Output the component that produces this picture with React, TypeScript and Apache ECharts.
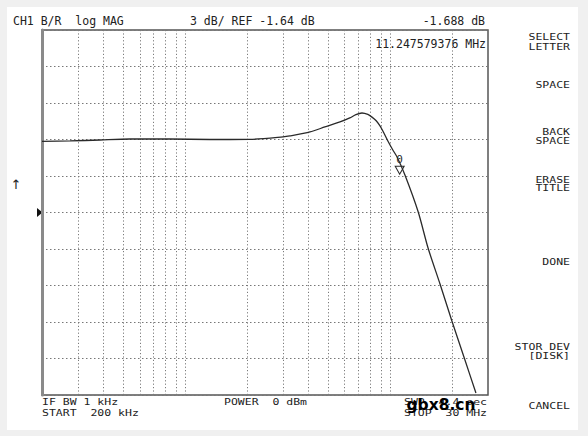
import React, { useEffect, useRef } from "react";
import * as echarts from "echarts";

// ---- data ----
const START_HZ = 200e3;
const STOP_HZ = 30e6;
const REF_DB = -1.64;
const DB_PER_DIV = 3;
const DIVS = 10;

const FREQ_HZ = [
  200e3, 274e3, 384e3, 537e3, 842e3, 1.32e6, 2.07e6, 3.0e6, 3.24e6, 4.06e6,
  4.8e6, 5.69e6, 6.35e6, 6.8e6, 7.28e6, 7.78e6, 8.15e6, 8.52e6, 8.9e6, 9.22e6,
  9.74e6, 10.3e6, 10.8e6, 11.8e6, 13.7e6, 15.3e6, 17.5e6, 20.0e6, 22.9e6, 26.2e6,
];
const TRACE_DB = [
  4.2, 4.24, 4.32, 4.4, 4.4, 4.36, 4.37, 4.57, 4.65, 4.98,
  5.39, 5.8, 6.13, 6.4, 6.54, 6.42, 6.2, 5.92, 5.5, 5.04,
  4.24, 3.5, 2.92, 1.44, -1.6, -4.56, -7.52, -10.56, -13.52, -16.48,
];
const GRID_FREQ_HZ = [
  300e3, 400e3, 500e3, 600e3, 700e3, 800e3, 900e3, 1e6,
  2e6, 3e6, 4e6, 5e6, 6e6, 7e6, 8e6, 9e6, 10e6, 20e6,
];
const MARKER_HZ = 11247579.376;
const MARKER_DB = 2.24;
const MARKER_LABEL = "0";

const HEADER_LEFT = "CH1 B/R  log MAG";
const HEADER_SCALE = "3 dB/ REF -1.64 dB";
const HEADER_READOUT = "-1.688 dB";
const MARKER_READOUT = "11.247579376 MHz";
const FOOTER_LEFT = ["IF BW 1 kHz", "START  200 kHz"];
const FOOTER_MID = "POWER  0 dBm";
const FOOTER_RIGHT = ["SWP  4.4 sec", "STOP  30 MHz"];
const SOFTKEYS = ["SELECT", "LETTER", "SPACE", "BACK", "SPACE", "ERASE", "TITLE", "DONE", "STOR DEV", "[DISK]", "CANCEL"];
const WATERMARK = "gbx8.cn";

const MONO = '"DejaVu Sans Mono", "Liberation Mono", monospace';

function txt(x: number, y: number, text: string, align = "left", size = 11.5, scaleY = 1, family = MONO) {
  return {
    type: "text",
    silent: true,
    x,
    y,
    scaleY,
    style: {
      text,
      x: 0,
      y: 0,
      fill: "#222",
      font: `${size}px ${family}`,
      align,
      textAlign: align,
      verticalAlign: "middle",
      textVerticalAlign: "middle",
    },
  };
}

export default function App() {
  const ref = useRef<HTMLDivElement>(null);

  useEffect(() => {
    if (!ref.current) return;
    const chart = echarts.init(ref.current, undefined, { renderer: "svg" });
    const softY = [37.3, 47.5, 85.5, 132.5, 141.5, 179.7, 188.3, 262, 347.5, 356.5, 406];
    const option: any = {
      animation: false,
      backgroundColor: "transparent",
      grid: {
        left: 42,
        top: 30,
        right: 100,
        bottom: 41,
        show: true,
        borderColor: "#555",
        borderWidth: 1.5,
        backgroundColor: "transparent",
      },
      xAxis: {
        type: "log",
        logBase: 10,
        min: START_HZ,
        max: STOP_HZ,
        axisLine: { show: false },
        axisTick: { show: false },
        axisLabel: { show: false },
        splitLine: { show: false },
        minorSplitLine: { show: false },
      },
      yAxis: [
        {
          type: "value",
          min: REF_DB - (DB_PER_DIV * DIVS) / 2,
          max: REF_DB + (DB_PER_DIV * DIVS) / 2,
          axisLine: { show: true, onZero: false, lineStyle: { color: "#8a8a8a", width: 3 } },
          axisTick: { show: false },
          axisLabel: { show: false },
          splitLine: { show: false },
        },
        {
          type: "value",
          min: -DIVS / 2,
          max: DIVS / 2,
          interval: 1,
          position: "right",
          axisLine: { show: false },
          axisTick: { show: false },
          axisLabel: { show: false },
          splitLine: { show: true, lineStyle: { color: "#777", width: 1, type: [1.5, 2.5] } },
        },
      ],
      series: [
        {
          type: "line",
          data: FREQ_HZ.map((f, i) => [f, TRACE_DB[i]]),
          showSymbol: false,
          smooth: 0.25,
          clip: true,
          lineStyle: { color: "#2a2a2a", width: 1.3 },
          z: 5,
          markLine: {
            silent: true,
            symbol: ["none", "none"],
            label: { show: false },
            lineStyle: { color: "#7a7a7a", width: 1, type: [1.2, 2.2] },
            data: GRID_FREQ_HZ.map((f) => ({ xAxis: f })),
            z: 1,
          },
          markPoint: {
            silent: true,
            symbol: "path://M0,0 L10,0 L5,9 Z",
            symbolSize: [9, 8],
            symbolOffset: [-1, 5],
            itemStyle: { color: "#fff", borderColor: "#2a2a2a", borderWidth: 1 },
            label: {
              show: true,
              position: "top",
              distance: 1,
              formatter: MARKER_LABEL,
              color: "#2a2a2a",
              fontFamily: MONO,
              fontSize: 11,
            },
            data: [{ coord: [MARKER_HZ, MARKER_DB] }],
          },
        },
      ],
      graphic: [
        txt(13, 21.3, HEADER_LEFT),
        txt(190, 21.3, HEADER_SCALE),
        txt(485, 21.3, HEADER_READOUT, "right"),
        txt(486, 43.5, MARKER_READOUT, "right"),
        txt(42, 401.5, FOOTER_LEFT[0], "left", 11.5, 0.8),
        txt(42, 412, FOOTER_LEFT[1], "left", 11.5, 0.8),
        txt(224, 401.5, FOOTER_MID, "left", 11.5, 0.8),
        txt(487, 401.5, FOOTER_RIGHT[0], "right", 11.5, 0.8),
        txt(487, 412, FOOTER_RIGHT[1], "right", 11.5, 0.8),
        ...SOFTKEYS.map((s, i) => txt(570, softY[i], s, "right", 11.5, 0.72)),
        txt(16, 184.5, "↑", "center", 13, 1, '"DejaVu Sans", sans-serif'),
        {
          type: "polygon",
          silent: true,
          shape: { points: [[37, 208], [42.5, 212.5], [37, 217]] },
          style: { fill: "#111" },
        },
        {
          type: "text",
          silent: true,
          style: {
            text: WATERMARK,
            x: 441,
            y: 405,
            fill: "#000",
            font: 'bold 15.5px "DejaVu Sans", sans-serif',
            align: "center",
            textAlign: "center",
            verticalAlign: "middle",
            textVerticalAlign: "middle",
          },
        },
      ],
    };
    chart.setOption(option);
    return () => chart.dispose();
  }, []);

  return (
    <div style={{ position: "fixed", left: 0, top: 0, width: 588, height: 436, background: "#f0f0f0" }}>
      <div style={{ position: "absolute", left: 7, top: 7, width: 571, height: 423, background: "#fff" }} />
      <div ref={ref} style={{ position: "absolute", left: 0, top: 0, width: 588, height: 436 }} />
    </div>
  );
}
